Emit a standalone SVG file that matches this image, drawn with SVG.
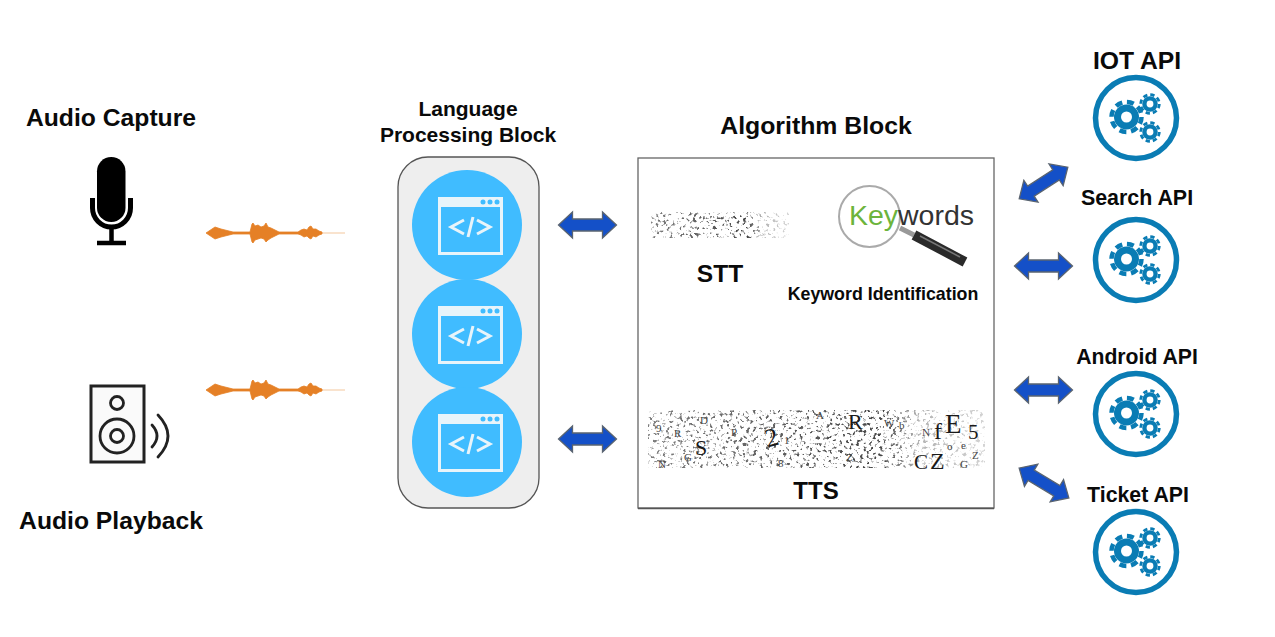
<svg xmlns="http://www.w3.org/2000/svg" xmlns:xlink="http://www.w3.org/1999/xlink" width="1275" height="637" viewBox="0 0 1275 637">
<style>
.t{font-family:"Liberation Sans",Arial,sans-serif;font-weight:700;fill:#0a0a0a;text-anchor:middle}
.n{font-family:"Liberation Serif","Times New Roman",serif;fill:#1a1a1a}
.s{font-size:11px;fill:#444}
.ar{fill:#1450c8;stroke:#5a6470;stroke-width:1.3;stroke-linejoin:miter}
.api{fill:none;stroke:#0a7cb4;stroke-width:5.5}
.wave{fill:#e58026;stroke:#e58026;stroke-width:.8}
.sp{fill:none;stroke:#222;stroke-width:2.800}
</style>
<defs>
<filter id="speck" x="0" y="0" width="1" height="1" color-interpolation-filters="sRGB">
<feTurbulence type="fractalNoise" baseFrequency="0.3" numOctaves="2" seed="7"/>
<feColorMatrix values="0 0 0 0 0.15 0 0 0 0 0.15 0 0 0 0 0.15 7 0 0 0 -3.950"/>
<feGaussianBlur stdDeviation="0.45"/>
<feComposite in2="SourceGraphic" operator="in"/>
</filter>
<linearGradient id="fade" x1="0" x2="1" y1="0" y2="0">
<stop offset="0" stop-color="#000" stop-opacity=".6"/><stop offset=".7" stop-color="#000" stop-opacity=".85"/><stop offset=".8" stop-color="#000" stop-opacity=".35"/><stop offset="1" stop-color="#000" stop-opacity=".2"/>
</linearGradient>
<g id="gear">
<circle r="12.500" fill="#0a7cb4"/>
<circle r="15" fill="none" stroke="#0a7cb4" stroke-width="4.500" stroke-dasharray="7 4.780"/>
<circle r="5.500" fill="#fff"/>
</g>
<g id="api">
<circle class="api" r="40.500"/>
<use href="#gear" transform="translate(-9.500 -1)"/>
<use href="#gear" transform="translate(14 -14) scale(.62)"/>
<use href="#gear" transform="translate(14 14) scale(.62)"/>
</g>
<g id="code">
<circle r="55" fill="#40bcff"/>
<rect x="-27.500" y="-26.500" width="62" height="55" fill="none" stroke="#e8f4fa" stroke-width="3"/>
<rect x="-29" y="-28" width="65" height="10" fill="#e8f4fa"/>
<circle cx="16" cy="-23" r="2.500" fill="#40bcff"/><circle cx="23" cy="-23" r="2.500" fill="#40bcff"/><circle cx="30" cy="-23" r="2.500" fill="#40bcff"/>
<path d="M-3-5L-16 2L-3 9M10-5L23 2L10 9M6-8L1 12" fill="none" stroke="#e8f4fa" stroke-width="3"/>
</g>
<path id="dbl" class="ar" d="M-29 0L-15-13V-6H15V-13L29 0L15 13V6H-15V13Z"/>
<g id="wv">
<path d="M20 0H139" stroke="#e58026" stroke-opacity=".45" stroke-width="1"/>
<path class="wave" d="M0 0L3-2L6-4L9-6L12-5L15-4L19-3L23-2L27-1L44-1L45-5L46-9L47-10L49-7L52-8L55-6L58-7L60-10L62-6L65-5L69-3L73-1L81-1H92L95-3L98-4L101-3L103-6L105-7L107-4L110-4L113-2L116-1L116 1L113 2L110 4L107 3L105 6L103 5L101 3L98 4L95 2L92 1H81L73 1L69 3L65 5L62 7L60 9L58 6L55 5L52 6L49 7L47 10L46 9L45 5L44 1L27 1L23 2L19 3L15 4L12 5L9 6L6 4L3 2Z"/>
</g>
</defs>

<g id="connectors">
<use href="#dbl" x="587.500" y="225"/>
<use href="#dbl" x="587.500" y="439"/>
<use href="#dbl" transform="translate(1043.500 183) rotate(-33)"/>
<use href="#dbl" x="1043.500" y="266"/>
<use href="#dbl" x="1043.500" y="390"/>
<use href="#dbl" transform="translate(1044 483) rotate(31)"/>
</g>

<g id="audio-capture">
<text class="t" x="111" y="126" font-size="24.700">Audio Capture</text>
<rect x="97" y="157" width="28.500" height="65" rx="14.250" fill="#000"/>
<path d="M92.500 198V208A19 19 0 0 0 130.500 208V198" fill="none" stroke="#000" stroke-width="5"/>
<path d="M111.500 228V242M97 243H126" fill="none" stroke="#000" stroke-width="4.500"/>
</g>
<g id="wave-capture"><use href="#wv" x="206" y="233"/></g>
<g id="wave-playback"><use href="#wv" x="206" y="390"/></g>

<g id="audio-playback">
<text class="t" x="111" y="529" font-size="24.700">Audio Playback</text>
<rect x="91" y="386" width="53" height="76" fill="#fafafa" stroke="#222" stroke-width="3"/>
<circle class="sp" cx="117" cy="403" r="6.500"/>
<circle class="sp" cx="117" cy="436" r="17"/>
<circle class="sp" cx="117" cy="436" r="6.500"/>
<path class="sp" d="M152 425Q162 436 152 447M158 415Q178 436 158 457" stroke-linecap="round"/>
</g>

<g id="language-processing">
<text class="t" x="468" y="116" font-size="21">Language</text>
<text class="t" x="468" y="142" font-size="21">Processing Block</text>
<rect x="398" y="157" width="141" height="351" rx="30" fill="#eeeeee" stroke="#555" stroke-width="1.300"/>
<use href="#code" x="467" y="225"/>
<use href="#code" x="467" y="334"/>
<use href="#code" x="467" y="442"/>
</g>

<g id="algorithm-block">
<text class="t" x="816" y="134" font-size="24.800">Algorithm Block</text>
<rect x="638" y="158" width="356" height="350" fill="#fff" stroke="#666" stroke-width="1.300"/>
<path d="M638 508.500H994" stroke="#555" stroke-width="1.500"/>
<rect id="stt-noise" x="651" y="212" width="138" height="26" fill="url(#fade)" filter="url(#speck)"/>
<text class="t" x="720" y="282" font-size="24.500">STT</text>
<g id="keywords">
<path d="M900 228L914 235" stroke="#999" stroke-width="5"/>
<path d="M914 235L965 262" stroke="#2a2a2a" stroke-width="10"/>
<path d="M920 236L960 257" stroke="#777" stroke-width="1.500"/>
<circle cx="869.500" cy="216.500" r="30.500" fill="#fff" stroke="#aaa" stroke-width="2"/>
<text x="849" y="225" font-family="Liberation Sans,Arial,sans-serif" font-size="28.500" fill="#6cb43c">Key</text>
<text x="898" y="225" font-family="Liberation Sans,Arial,sans-serif" font-size="28.500" fill="#333">words</text>
</g>
<text class="t" x="883" y="300" font-size="17.800">Keyword Identification</text>
<g id="tts-noise">
<rect x="648" y="410" width="337" height="58" fill="url(#fade)" filter="url(#speck)"/>
<text class="n" font-size="22" x="695" y="455">S</text>
<text class="n" font-size="26" x="765" y="446" transform="rotate(-15 772 437)">2</text>
<text class="n" font-size="22" x="848" y="429">R</text>
<text class="n" font-size="27" x="945" y="433">E</text>
<text class="n" font-size="24" x="934" y="439">f</text>
<text class="n" font-size="21" x="968" y="439">5</text>
<text class="n" font-size="21" x="914" y="469">C</text>
<text class="n" font-size="24" x="930" y="469">Z</text>
<text class="n s" x="684" y="461">G</text>
<text class="n s" x="731" y="436">P</text>
<text class="n s" x="778" y="467">8</text>
<text class="n s" x="846" y="461">Z</text>
<text class="n s" x="922" y="436">N</text>
<text class="n s" x="961" y="449">e</text>
<text class="n s" x="972" y="459">Z</text>
<text class="n s" x="947" y="450">o</text>
<text class="n s" x="816" y="419">A</text>
<text class="n s" x="700" y="424">D</text>
<text class="n s" x="674" y="437">R</text>
<text class="n s" x="656" y="432">9</text>
<text class="n s" x="899" y="429">b</text>
<text class="n s" x="884" y="427">W</text>
<text class="n s" x="960" y="468">G</text>
<text class="n s" x="658" y="468">N</text>
<text class="n s" x="784" y="444">1</text>
</g>
<text class="t" x="816" y="499" font-size="24">TTS</text>
</g>

<g id="iot-api"><text class="t" x="1137" y="69" font-size="24.700">IOT API</text><use href="#api" x="1136" y="118"/></g>
<g id="search-api"><text class="t" x="1137" y="205" font-size="21.400">Search API</text><use href="#api" x="1136" y="260"/></g>
<g id="android-api"><text class="t" x="1137" y="364" font-size="21.200">Android API</text><use href="#api" x="1136" y="414"/></g>
<g id="ticket-api"><text class="t" x="1138" y="502" font-size="21.300">Ticket API</text><use href="#api" x="1136" y="552"/></g>
</svg>
